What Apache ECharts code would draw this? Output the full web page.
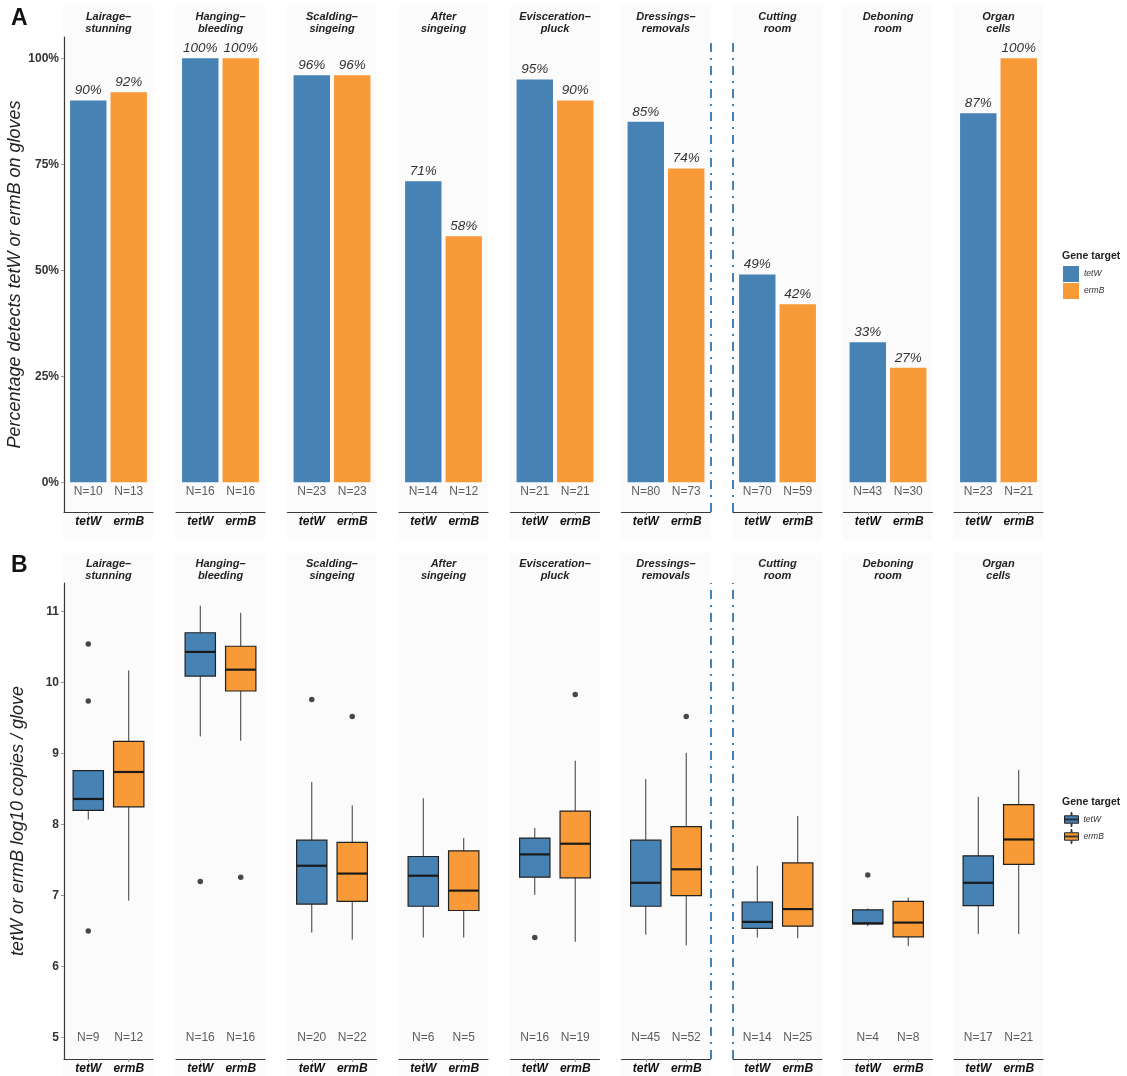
<!DOCTYPE html>
<html><head><meta charset="utf-8">
<script src="https://cdn.jsdelivr.net/npm/echarts@6/dist/echarts.min.js"></script>
<style>html,body{margin:0;padding:0;background:#fff}#c{width:1127px;height:1076px}</style>
</head><body><div id="c"></div>
<script>
// ---------- data ----------
const facets = ['Lairage–\nstunning','Hanging–\nbleeding','Scalding–\nsingeing','After\nsingeing','Evisceration–\npluck','Dressings–\nremovals','Cutting\nroom','Deboning\nroom','Organ\ncells'];
const genes = ['tetW','ermB'];
const pctTetW = [90,100,96,71,95,85,49,33,87];
const pctErmB = [92,100,96,58,90,74,42,27,100];
const nPctTetW = [10,16,23,14,21,80,70,43,23];
const nPctErmB = [13,16,23,12,21,73,59,30,21];
const nQtyTetW = [9,16,20,6,16,45,14,4,17];
const nQtyErmB = [12,16,22,5,19,52,25,8,21];
// [lower whisker, Q1, median, Q3, upper whisker]
const boxTetW = [
  [8.07, 8.20, 8.36, 8.76, 8.77],
  [9.24, 10.09, 10.43, 10.70, 11.08],
  [6.48, 6.88, 7.42, 7.78, 8.60],
  [6.41, 6.85, 7.28, 7.55, 8.37],
  [7.01, 7.26, 7.58, 7.81, 7.95],
  [6.45, 6.85, 7.18, 7.78, 8.64],
  [6.41, 6.54, 6.63, 6.91, 7.42],
  [6.57, 6.60, 6.61, 6.80, 6.82],
  [6.46, 6.86, 7.18, 7.56, 8.39]
];
const boxErmB = [
  [6.93, 8.25, 8.74, 9.17, 10.17],
  [9.18, 9.88, 10.18, 10.51, 10.98],
  [6.38, 6.92, 7.31, 7.75, 8.27],
  [6.41, 6.79, 7.07, 7.63, 7.81],
  [6.35, 7.25, 7.73, 8.19, 8.90],
  [6.30, 7.00, 7.37, 7.97, 9.01],
  [6.40, 6.57, 6.81, 7.46, 8.12],
  [6.29, 6.42, 6.62, 6.92, 6.97],
  [6.46, 7.44, 7.79, 8.28, 8.77]
];
const outTetW = [[10.54, 9.74, 6.50],[7.20],[9.76],[],[6.41],[],[],[7.29],[]];
const outErmB = [[],[7.26],[9.52],[],[9.83],[9.52],[],[],[]];
const pctTicks = [0,25,50,75,100];
const qtyTicks = [5,6,7,8,9,10,11];

// ---------- layout / style ----------
const FONT = '"Liberation Sans", Arial, sans-serif';
const BLUE = '#4682B4', ORANGE = '#F79A37';
const FL = [64, 176, 287.5, 399, 510.5, 621.5, 733, 843.5, 954];
const FW = 89;
const PANELS = [
  {top: 37, height: 475, min: -7, max: 105, ticks: pctTicks, fmt: v => v + '%', nY: -2.1,
   name: 'Percentage detects tetW or ermB on gloves', bgTop: 5, bgH: 535, stripY: 10.5},
  {top: 583, height: 476, min: 4.70, max: 11.40, ticks: qtyTicks, fmt: v => String(v), nY: 5,
   name: 'tetW or ermB log10 copies / glove', bgTop: 553, bgH: 523, stripY: 558}
];
const unit = FW / 2.2;

const grids = [], xAxes = [], yAxes = [], series = [], graphics = [];
PANELS.forEach((P, p) => {
  facets.forEach((f, i) => {
    const k = p * 9 + i;
    grids.push({left: FL[i], top: P.top, width: FW, height: P.height, outerBoundsMode: 'none', containLabel: false});
    xAxes.push({
      gridIndex: k, type: 'value', min: 0.4, max: 2.6, position: 'bottom',
      axisLine: {show: true, onZero: false, lineStyle: {color: '#3a3a3a', width: 1.2}},
      axisTick: {show: true, customValues: [1, 2], length: 3, lineStyle: {color: '#999'}},
      axisLabel: {show: true, customValues: [1, 2], formatter: v => genes[Math.round(v) - 1],
        fontWeight: 'bold', fontStyle: 'italic', fontSize: 12, color: '#111', margin: 4, fontFamily: FONT},
      splitLine: {show: false}
    });
    yAxes.push({
      gridIndex: k, type: 'value', min: P.min, max: P.max, show: i === 0, position: 'left',
      axisLine: {show: true, onZero: false, lineStyle: {color: '#3a3a3a', width: 1.2}},
      axisTick: {show: true, customValues: P.ticks, length: 3, lineStyle: {color: '#999'}},
      axisLabel: {show: true, customValues: P.ticks, formatter: P.fmt, fontWeight: 'bold', fontSize: 12,
        color: '#333', margin: 5, fontFamily: FONT},
      splitLine: {show: false},
      name: i === 0 ? P.name : '', nameLocation: 'middle', nameRotate: 90, nameGap: 37,
      nameTextStyle: {fontStyle: 'italic', fontSize: 18, color: '#222', fontFamily: FONT}
    });
    // facet background + strip label
    graphics.push({type: 'rect', z: -10, silent: true,
      shape: {x: FL[i] - 1, y: P.bgTop, width: FW + 1, height: P.bgH}, style: {fill: '#FBFBFB'}});
    graphics.push({type: 'text', silent: true, x: FL[i] + FW / 2, y: P.stripY,
      style: {text: f, align: 'center', verticalAlign: 'top', lineHeight: 12,
        font: 'italic bold 11px ' + FONT, fill: '#222'}});

    let markLine = null;
    if (i === 5 || i === 6) {
      markLine = {silent: true, symbol: ['none', 'none'], label: {show: false},
        lineStyle: {color: BLUE, width: 2, type: [9, 6, 2, 6]},
        data: [{xAxis: i === 5 ? 2.6 : 0.4}]};
    }

    const nT = p === 0 ? nPctTetW[i] : nQtyTetW[i];
    const nE = p === 0 ? nPctErmB[i] : nQtyErmB[i];

    if (p === 0) {
      [[pctTetW, BLUE, 'tetW', 1], [pctErmB, ORANGE, 'ermB', 2]].forEach(([arr, col, nm, x], j) => {
        const s = {
          type: 'bar', name: nm, xAxisIndex: k, yAxisIndex: k,
          data: [[x, arr[i]]], barWidth: 0.9 * unit, barGap: '-100%',
          itemStyle: {color: col},
          label: {show: true, position: 'top', distance: 3, formatter: q => q.value[1] + '%',
            fontStyle: 'italic', fontSize: 13.5, color: '#333', fontFamily: FONT}
        };
        if (markLine && j === 0) s.markLine = markLine;
        series.push(s);
      });
    } else {
      [[boxTetW, BLUE, 'tetW', 1], [boxErmB, ORANGE, 'ermB', 2]].forEach(([arr, col, nm, x], j) => {
        const s = {
          type: 'custom', name: nm, xAxisIndex: k, yAxisIndex: k,
          data: [[x].concat(arr[i])], encode: {x: 0, y: [1, 2, 3, 4, 5]},
          itemStyle: {color: col},
          renderItem: (params, api) => {
            const xv = api.value(0);
            const lo = api.coord([xv, api.value(1)]);
            const q1 = api.coord([xv, api.value(2)]);
            const md = api.coord([xv, api.value(3)]);
            const q3 = api.coord([xv, api.value(4)]);
            const hi = api.coord([xv, api.value(5)]);
            const half = api.size([1, 0])[0] * 0.75 / 2;
            return {type: 'group', children: [
              {type: 'line', shape: {x1: lo[0], y1: lo[1], x2: hi[0], y2: hi[1]},
                style: {stroke: '#3a3a3a', lineWidth: 1}},
              {type: 'rect', shape: {x: q3[0] - half, y: q3[1], width: 2 * half, height: q1[1] - q3[1]},
                style: {fill: api.visual('color'), stroke: '#222', lineWidth: 1.2}},
              {type: 'line', shape: {x1: md[0] - half, y1: md[1], x2: md[0] + half, y2: md[1]},
                style: {stroke: '#1a1a1a', lineWidth: 2.2}}
            ]};
          }
        };
        if (markLine && j === 0) s.markLine = markLine;
        series.push(s);
      });
      series.push({
        type: 'scatter', name: 'outliers', xAxisIndex: k, yAxisIndex: k, silent: true,
        symbolSize: 5.5, itemStyle: {color: '#1a1a1a'},
        data: outTetW[i].map(v => [1, v]).concat(outErmB[i].map(v => [2, v]))
      });
    }
    // N labels
    series.push({
      type: 'scatter', name: 'N', xAxisIndex: k, yAxisIndex: k, silent: true,
      symbolSize: 0.1, itemStyle: {color: 'rgba(0,0,0,0)'},
      data: [[1, P.nY, nT], [2, P.nY, nE]],
      label: {show: true, position: 'inside', formatter: q => 'N=' + q.value[2],
        fontSize: 12, color: '#333', fontFamily: FONT}
    });
  });
});

// panel letters and legend titles
graphics.push({type: 'text', x: 11, y: 19, style: {text: 'A', verticalAlign: 'middle', font: 'bold 23px ' + FONT, fill: '#111'}});
graphics.push({type: 'text', x: 11, y: 566, style: {text: 'B', verticalAlign: 'middle', font: 'bold 23px ' + FONT, fill: '#111'}});
graphics.push({type: 'text', x: 1062, y: 256, style: {text: 'Gene target', verticalAlign: 'middle', font: 'bold 10.5px ' + FONT, fill: '#222'}});
graphics.push({type: 'text', x: 1062, y: 802.5, style: {text: 'Gene target', verticalAlign: 'middle', font: 'bold 10.5px ' + FONT, fill: '#222'}});

const boxIcon = 'path://M8,0h1v4h8v9h-8v4h-1v-4h-8v-9h8z M0,8h17v1h-17z';

const option = {
  animation: false,
  backgroundColor: '#fff',
  textStyle: {fontFamily: FONT},
  grid: grids, xAxis: xAxes, yAxis: yAxes, series: series,
  graphic: graphics,
  legend: [
    {orient: 'vertical', left: 1063, top: 266, padding: 0, itemWidth: 16, itemHeight: 16, itemGap: 1,
      selectedMode: false, icon: 'rect', data: ['tetW', 'ermB'],
      itemStyle: {borderWidth: 0},
      textStyle: {fontSize: 8.5, fontStyle: 'italic', color: '#333', fontFamily: FONT}},
    {orient: 'vertical', left: 1064, top: 812, padding: 0, itemWidth: 14, itemHeight: 16, itemGap: 2,
      selectedMode: false,
      data: [{name: 'tetW', icon: boxIcon}, {name: 'ermB', icon: boxIcon}],
      itemStyle: {borderColor: '#222', borderWidth: 1},
      textStyle: {fontSize: 8.5, fontStyle: 'italic', color: '#333', fontFamily: FONT}}
  ]
};
const chart = echarts.init(document.getElementById('c'), null, {renderer: 'canvas'});
chart.setOption(option);
</script></body></html>
